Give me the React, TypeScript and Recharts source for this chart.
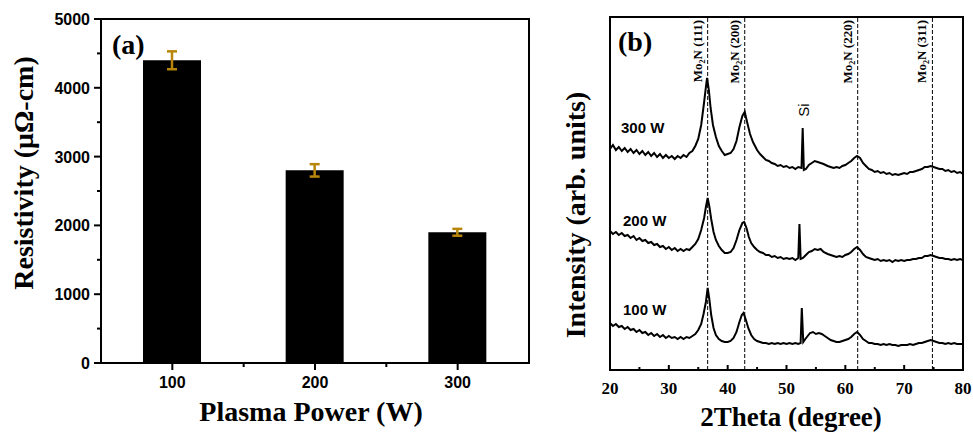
import React from 'react';
import {
  BarChart, Bar, ErrorBar, XAxis, YAxis, ReferenceArea, LineChart, Line, ReferenceLine,
} from 'recharts';

// ---------- Panel (a) data ----------
const powers = [100, 200, 300];
const resistivity = [4400, 2800, 1900];
const resistivityErr = [130, 90, 50];
const xTicksA = [100, 150, 200, 250, 300];
const xMajorA = [100, 200, 300];
const yTicksA = [0, 500, 1000, 1500, 2000, 2500, 3000, 3500, 4000, 4500, 5000];
const yMajorA = [0, 1000, 2000, 3000, 4000, 5000];

// ---------- Panel (b) data ----------
const xTicksB = [20, 25, 30, 35, 40, 45, 50, 55, 60, 65, 70, 75, 80];
const xMajorB = [20, 30, 40, 50, 60, 70, 80];
const peakPositions = [36.6, 42.9, 62.1, 74.8];
const peakLabels = ['(111)', '(200)', '(220)', '(311)'];

const trace300W: [number, number][] = [
  [20, 221], [20.5, 225], [21, 220], [21.5, 223], [22, 219], [22.5, 222], [23, 218], [23.5, 221], [24, 217], [24.5, 220],
  [25, 216], [25.5, 219], [26, 215], [26.5, 218], [27, 214], [27.5, 217], [28, 213], [28.5, 216], [29, 212], [29.5, 215],
  [30, 212], [30.5, 214], [31, 211], [31.5, 214], [32, 212], [32.5, 215], [33, 213], [33.5, 217], [34, 219], [34.5, 224],
  [35, 231], [35.5, 245], [36, 268], [36.3, 283], [36.5, 292], [36.8, 280], [37.1, 262], [37.5, 245], [38, 233], [38.5, 224],
  [39, 219], [39.5, 215], [40, 216], [40.5, 217], [41, 221], [41.5, 229], [42, 243], [42.5, 254], [42.9, 258], [43.3, 248],
  [43.8, 236], [44.3, 228], [45, 220], [45.5, 216], [46, 213], [46.5, 210], [47, 209], [47.5, 207], [48, 206], [48.5, 204],
  [49, 205], [49.5, 203], [50, 204], [50.5, 202], [51, 203], [51.5, 201], [52, 203], [52.55, 202], [52.75, 242], [52.95, 200],
  [53.3, 201], [53.8, 205], [54.3, 207], [54.8, 209], [55.3, 208], [55.8, 207], [56.3, 206], [57, 204], [57.5, 203], [58, 202],
  [58.5, 203], [59, 202], [59.5, 204], [60, 205], [60.5, 207], [61, 209], [61.5, 212], [62, 214], [62.5, 212], [63, 207],
  [63.5, 204], [64, 201], [64.5, 200], [65, 198], [65.5, 199], [66, 197], [66.5, 198], [67, 196], [67.5, 197], [68, 195],
  [68.5, 196], [69, 195], [69.5, 196], [70, 197], [70.5, 196], [71, 198], [71.5, 198], [72, 199], [72.5, 200], [73, 201],
  [73.5, 203], [74, 203], [74.5, 204], [75, 203], [75.5, 202], [76, 201], [76.5, 201], [77, 199], [77.5, 200], [78, 198],
  [78.5, 199], [79, 197], [79.5, 198], [80, 196],
];

const trace200W: [number, number][] = [
  [20, 139], [20.5, 136], [21, 138], [21.5, 135], [22, 137], [22.5, 134], [23, 135], [23.5, 132], [24, 134], [24.5, 130],
  [25, 132], [25.5, 129], [26, 130], [26.5, 127], [27, 128], [27.5, 125], [28, 126], [28.5, 123], [29, 124], [29.5, 121],
  [30, 123], [30.5, 120], [31, 122], [31.5, 119], [32, 121], [32.5, 119], [33, 121], [33.5, 120], [34, 123], [34.5, 126],
  [35, 131], [35.5, 140], [36, 152], [36.3, 163], [36.6, 172], [36.9, 163], [37.2, 151], [37.6, 138], [38, 130], [38.5, 124],
  [39, 120], [39.5, 117], [40, 117], [40.5, 118], [41, 122], [41.5, 130], [42, 140], [42.5, 147], [42.8, 148], [43.2, 142],
  [43.6, 133], [44, 127], [44.5, 123], [45, 120], [45.5, 118], [46, 117], [46.5, 115], [47, 115], [47.5, 113], [48, 114],
  [48.5, 112], [49, 113], [49.5, 111], [50, 112], [50.5, 111], [51, 112], [51.5, 110], [52, 112], [52.2, 146], [52.4, 111],
  [52.8, 112], [53.3, 115], [53.8, 118], [54.3, 119], [54.8, 121], [55.3, 120], [55.8, 121], [56.3, 118], [57, 116], [57.5, 115],
  [58, 114], [58.5, 113], [59, 114], [59.5, 113], [60, 115], [60.5, 116], [61, 118], [61.5, 121], [62, 123], [62.5, 120],
  [63, 116], [63.5, 113], [64, 112], [64.5, 111], [65, 110], [65.5, 111], [66, 109], [66.5, 110], [67, 109], [67.5, 110],
  [68, 108], [68.5, 110], [69, 109], [69.5, 110], [70, 109], [70.5, 110], [71, 110], [71.5, 111], [72, 111], [72.5, 112],
  [73, 112], [73.5, 114], [74, 114], [74.5, 115], [75, 114], [75.5, 113], [76, 112], [76.5, 112], [77, 111], [77.5, 111],
  [78, 110], [78.5, 111], [79, 110], [79.5, 111], [80, 110],
];

const trace100W: [number, number][] = [
  [20, 47], [20.5, 44], [21, 46], [21.5, 43], [22, 44], [22.5, 41], [23, 43], [23.5, 40], [24, 41], [24.5, 38],
  [25, 40], [25.5, 37], [26, 38], [26.5, 35], [27, 37], [27.5, 34], [28, 36], [28.5, 33], [29, 35], [29.5, 32],
  [30, 34], [30.5, 32], [31, 33], [31.5, 31], [32, 33], [32.5, 31], [33, 33], [33.5, 32], [34, 34], [34.5, 36],
  [35, 40], [35.5, 46], [35.9, 56], [36.3, 68], [36.6, 82], [36.9, 70], [37.2, 55], [37.6, 42], [38, 35], [38.5, 31],
  [39, 29], [39.5, 28], [40, 28], [40.5, 29], [41, 32], [41.5, 38], [42, 48], [42.4, 55], [42.7, 57], [43.1, 50],
  [43.5, 42], [44, 35], [44.5, 31], [45, 29], [45.5, 28], [46, 27], [46.5, 27], [47, 26], [47.5, 27], [48, 26],
  [48.5, 27], [49, 26], [49.5, 27], [50, 26], [50.5, 27], [51, 26], [51.5, 27], [52, 26], [52.4, 27], [52.6, 62],
  [52.85, 28], [53.2, 31], [53.6, 34], [54, 37], [54.5, 38], [55, 36], [55.5, 37], [56, 36], [56.5, 34], [57, 32],
  [57.5, 30], [58, 29], [58.5, 28], [59, 28], [59.5, 29], [60, 30], [60.5, 31], [61, 33], [61.5, 36], [62, 38],
  [62.5, 35], [63, 31], [63.5, 29], [64, 27], [64.5, 27], [65, 26], [65.5, 26], [66, 25], [66.5, 26], [67, 25],
  [67.5, 26], [68, 25], [68.5, 25], [69, 24], [69.5, 25], [70, 25], [70.5, 25], [71, 26], [71.5, 25], [72, 26],
  [72.5, 27], [73, 27], [73.5, 28], [74, 29], [74.5, 30], [75, 29], [75.5, 28], [76, 27], [76.5, 27], [77, 26],
  [77.5, 27], [78, 26], [78.5, 27], [79, 26], [79.5, 26], [80, 26],
];

const barData = powers.map((p, i) => ({ power: p, r: resistivity[i], err: resistivityErr[i] }));
const toPts = (arr: [number, number][]) => arr.map(([t, v]) => ({ t, v }));
const d300 = toPts(trace300W);
const d200 = toPts(trace200W);
const d100 = toPts(trace100W);

const SANS = '"Liberation Sans", Arial, sans-serif';
const SERIF = '"Liberation Serif", "Times New Roman", serif';

const XTickA = (props: any) => {
  const { x, y, payload } = props;
  const major = xMajorA.includes(payload.value);
  return (
    <g>
      <line x1={x} x2={x} y1={y} y2={y + (major ? 7 : 4)} stroke="#000" strokeWidth={2} />
      {major && (
        <text x={x} y={y + 25} textAnchor="middle" fontFamily={SANS} fontWeight="bold" fontSize={16} fill="#000">
          {payload.value}
        </text>
      )}
    </g>
  );
};

const YTickA = (props: any) => {
  const { x, y, payload } = props;
  const major = yMajorA.includes(payload.value);
  return (
    <g>
      <line x1={x} x2={x - (major ? 7 : 4)} y1={y} y2={y} stroke="#000" strokeWidth={2} />
      {major && (
        <text x={x - 11} y={y + 6} textAnchor="end" fontFamily={SANS} fontWeight="bold" fontSize={16} fill="#000">
          {payload.value}
        </text>
      )}
    </g>
  );
};

const XTickB = (props: any) => {
  const { x, y, payload } = props;
  const major = xMajorB.includes(payload.value);
  return (
    <g>
      <line x1={x} x2={x} y1={y} y2={y - (major ? 5 : 3)} stroke="#000" strokeWidth={2} />
      {major && (
        <text x={x} y={y + 24} textAnchor="middle" fontFamily={SERIF} fontWeight="bold" fontSize={17} fill="#000">
          {payload.value}
        </text>
      )}
    </g>
  );
};

const MoLabel = (props: any) => {
  const { viewBox, hkl } = props;
  if (!viewBox) return null;
  const x = viewBox.x - 6;
  const y = viewBox.y + 3;
  return (
    <text transform={`translate(${x},${y}) rotate(-90)`} textAnchor="end" fontFamily={SERIF} fontWeight="bold" fontSize={13} fill="#000">
      Mo<tspan fontSize={8} dy={3}>2</tspan><tspan dy={-3}>N {hkl}</tspan>
    </text>
  );
};

export default function App() {
  return (
    <div style={{ position: 'absolute', left: 0, top: 0, width: 973, height: 433, background: '#fff' }}>
      <div style={{ position: 'absolute', left: 0, top: 0 }}>
        <BarChart width={540} height={433} data={barData} margin={{ top: 19, right: 11, left: 41, bottom: 40 }}>
          <XAxis
            dataKey="power" type="number" domain={[50, 350]} ticks={xTicksA} interval={0}
            tickSize={0} tickMargin={0} tickLine={false} tick={<XTickA />} height={30}
            axisLine={{ stroke: '#000', strokeWidth: 2 }}
          />
          <YAxis
            type="number" domain={[0, 5000]} ticks={yTicksA} interval={0}
            tickSize={0} tickMargin={0} tickLine={false} tick={<YTickA />} width={60}
            axisLine={{ stroke: '#000', strokeWidth: 2 }}
          />
          <Bar dataKey="r" fill="#000" barSize={58} isAnimationActive={false}>
            <ErrorBar dataKey="err" width={5} stroke="#B8860B" strokeWidth={2.5} direction="y" isAnimationActive={false} />
          </Bar>
          <ReferenceArea x1={50} x2={350} y1={0} y2={5000} fill="none" stroke="#000" strokeWidth={2} ifOverflow="visible" />
        </BarChart>
      </div>
      <div style={{ position: 'absolute', left: 540, top: 0 }}>
        <LineChart width={433} height={433} margin={{ top: 17, right: 10, left: 70, bottom: 23 }}>
          <XAxis
            dataKey="t" type="number" domain={[20, 80]} ticks={xTicksB} interval={0}
            tickSize={0} tickMargin={0} tickLine={false} tick={<XTickB />} height={40}
            axisLine={{ stroke: '#000', strokeWidth: 2 }} allowDataOverflow
          />
          <YAxis type="number" domain={[0, 353]} hide allowDataOverflow />
          {peakPositions.map((p, i) => (
            <ReferenceLine key={p} x={p} stroke="#000" strokeWidth={1} strokeDasharray="4 2" label={<MoLabel hkl={peakLabels[i]} />} />
          ))}
          <Line data={d300} dataKey="v" stroke="#000" strokeWidth={2} dot={false} type="linear" isAnimationActive={false} />
          <Line data={d200} dataKey="v" stroke="#000" strokeWidth={2} dot={false} type="linear" isAnimationActive={false} />
          <Line data={d100} dataKey="v" stroke="#000" strokeWidth={2} dot={false} type="linear" isAnimationActive={false} />
          <ReferenceArea x1={20} x2={80} y1={0} y2={353} fill="none" stroke="#000" strokeWidth={2} ifOverflow="visible" />
        </LineChart>
      </div>
      <svg width={973} height={433} style={{ position: 'absolute', left: 0, top: 0, pointerEvents: 'none' }}>
        <text x={112} y={54} fontFamily={SERIF} fontWeight="bold" fontSize={28} fill="#000">(a)</text>
        <text transform="translate(33,173) rotate(-90)" textAnchor="middle" fontFamily={SERIF} fontWeight="bold" fontSize={28} fill="#000">
          Resistivity (μΩ-cm)
        </text>
        <text x={311} y={421} textAnchor="middle" fontFamily={SERIF} fontWeight="bold" fontSize={28} fill="#000">Plasma Power (W)</text>

        <text x={618} y={51} fontFamily={SERIF} fontWeight="bold" fontSize={28} fill="#000">(b)</text>
        <text transform="translate(585,215) rotate(-90)" textAnchor="middle" fontFamily={SERIF} fontWeight="bold" fontSize={28} fill="#000">
          Intensity (arb. units)
        </text>
        <text x={791} y={426} textAnchor="middle" fontFamily={SERIF} fontWeight="bold" fontSize={27} fill="#000">2Theta (degree)</text>
        <text x={621} y={133} fontFamily={SANS} fontWeight="bold" fontSize={15} fill="#000">300 W</text>
        <text x={623} y={226} fontFamily={SANS} fontWeight="bold" fontSize={15} fill="#000">200 W</text>
        <text x={623} y={315} fontFamily={SANS} fontWeight="bold" fontSize={15} fill="#000">100 W</text>
        <text transform="translate(809,110) rotate(-90)" textAnchor="middle" fontFamily={SANS} fontSize={15} fill="#000">Si</text>
      </svg>
    </div>
  );
}
